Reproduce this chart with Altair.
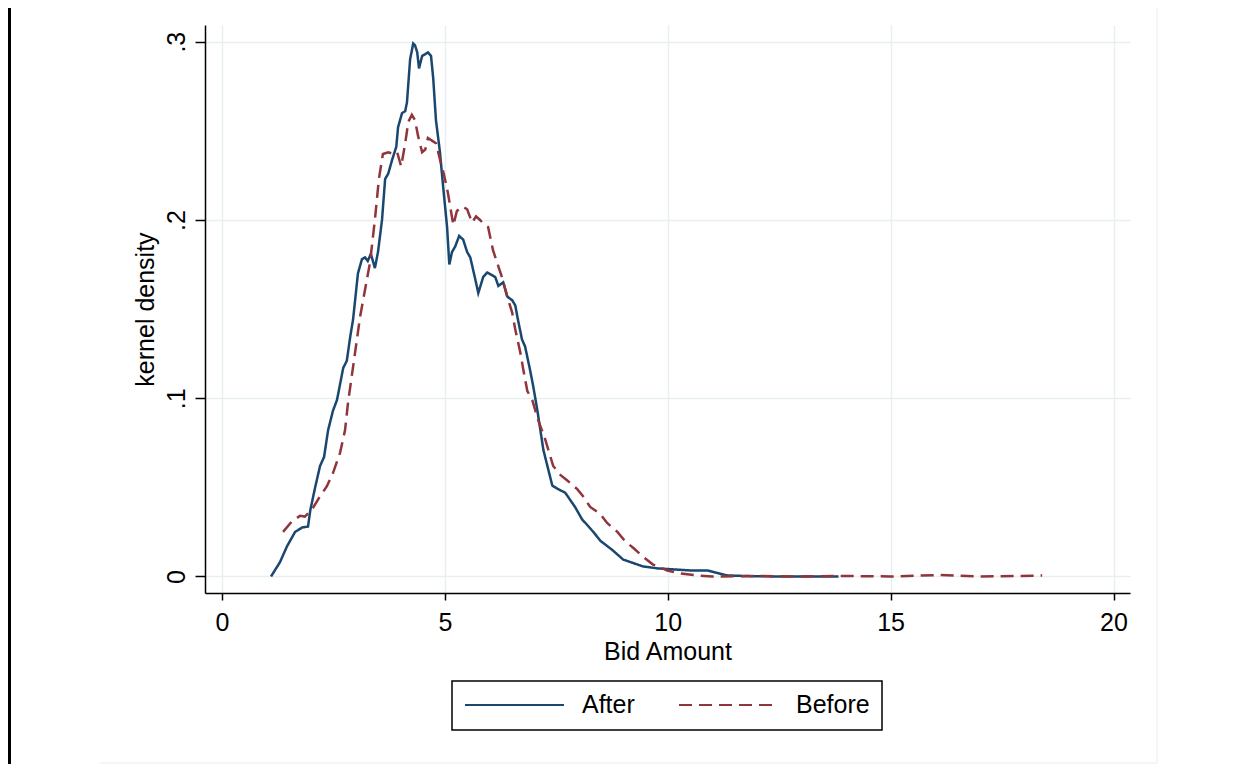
import altair as alt
import pandas as pd

# ---- data (kernel density of bid amounts) ----
after_x = [1.10, 1.30, 1.46, 1.64, 1.80, 1.93, 1.98, 2.09, 2.20, 2.29, 2.38, 2.49, 2.58,
           2.72, 2.80, 2.88, 2.94, 3.05, 3.14, 3.21, 3.27, 3.34, 3.43, 3.50, 3.59, 3.66,
           3.73, 3.82, 3.91, 3.95, 4.04, 4.11, 4.15, 4.22, 4.29, 4.33, 4.38, 4.42, 4.49,
           4.56, 4.62, 4.69, 4.74, 4.80, 4.89, 4.96, 5.05, 5.10, 5.16, 5.23, 5.32, 5.41,
           5.50, 5.57, 5.68, 5.75, 5.86, 5.95, 6.06, 6.13, 6.20, 6.31, 6.40, 6.51, 6.58,
           6.64, 6.73, 6.80, 6.91, 6.98, 7.07, 7.21, 7.41, 7.54, 7.70, 7.81, 7.92, 8.08,
           8.19, 8.33, 8.49, 8.75, 9.00, 9.45, 9.79, 10.50, 10.89, 11.07, 11.34, 11.85,
           12.50, 13.00, 13.83]
after_y = [0.000, 0.008, 0.017, 0.025, 0.0275, 0.028, 0.037, 0.050, 0.062, 0.067, 0.082, 0.093, 0.099,
           0.117, 0.121, 0.135, 0.144, 0.170, 0.178, 0.179, 0.177, 0.181, 0.173, 0.182, 0.200, 0.223,
           0.226, 0.234, 0.241, 0.252, 0.260, 0.261, 0.266, 0.290, 0.299, 0.298, 0.294, 0.285, 0.292,
           0.293, 0.294, 0.292, 0.279, 0.256, 0.238, 0.219, 0.196, 0.175, 0.182, 0.185, 0.191, 0.189,
           0.182, 0.179, 0.167, 0.159, 0.168, 0.1705, 0.169, 0.168, 0.163, 0.165, 0.157, 0.155, 0.152,
           0.144, 0.133, 0.129, 0.116, 0.107, 0.094, 0.071, 0.051, 0.049, 0.047, 0.043, 0.039, 0.032,
           0.029, 0.025, 0.020, 0.015, 0.0095, 0.0056, 0.0045, 0.0034, 0.0034, 0.0022, 0.0006, 0.0002,
           0.0, 0.0, 0.0]

before_x = [1.37, 1.57, 1.75, 1.86, 2.02, 2.20, 2.35, 2.49, 2.65, 2.76, 2.83, 2.96, 3.10,
            3.21, 3.32, 3.43, 3.52, 3.61, 3.73, 3.84, 3.93, 4.02, 4.11, 4.18, 4.26, 4.33,
            4.40, 4.49, 4.56, 4.62, 4.71, 4.80, 4.89, 4.98, 5.07, 5.19, 5.27, 5.39, 5.50,
            5.61, 5.70, 5.79, 5.86, 5.97, 6.08, 6.20, 6.28, 6.40, 6.51, 6.58, 6.69, 6.76,
            6.85, 6.96, 7.09, 7.25, 7.43, 7.59, 7.74, 7.97, 8.10, 8.26, 8.49, 8.64, 8.87,
            9.05, 9.23, 9.45, 9.67, 9.99, 10.28, 10.66, 11.00, 12.00, 13.00, 14.00, 15.00,
            16.10, 17.00, 18.40]
before_y = [0.025, 0.031, 0.034, 0.0336, 0.0376, 0.045, 0.0505, 0.058, 0.0695, 0.082, 0.098, 0.121, 0.146,
            0.161, 0.176, 0.200, 0.223, 0.237, 0.238, 0.237, 0.238, 0.230, 0.243, 0.255, 0.259, 0.256,
            0.247, 0.238, 0.2395, 0.246, 0.2445, 0.243, 0.234, 0.2255, 0.215, 0.197, 0.205, 0.2075, 0.206,
            0.1985, 0.202, 0.200, 0.198, 0.196, 0.183, 0.174, 0.168, 0.157, 0.148, 0.1385, 0.126, 0.116,
            0.104, 0.099, 0.088, 0.077, 0.062, 0.057, 0.054, 0.049, 0.045, 0.039, 0.035, 0.030, 0.025,
            0.0196, 0.016, 0.011, 0.0067, 0.0034, 0.0017, 0.0006, 0.0, 0.0003, 0.0, 0.0003, 0.0,
            0.0008, 0.0, 0.0005]

series_names = ["After", "Before"]
series_colors = ["#1a476f", "#90353b"]
x_ticks = [0, 5, 10, 15, 20]
y_ticks = [0, 0.1, 0.2, 0.3]

df = pd.concat([
    pd.DataFrame({"bid": after_x, "density": after_y, "series": "After"}),
    pd.DataFrame({"bid": before_x, "density": before_y, "series": "Before"}),
], ignore_index=True)

FONT = "Liberation Sans"
FS = 25

legend_kw = dict(
    title=None, orient="none", legendX=247, legendY=656, direction="horizontal",
    symbolType="stroke", symbolSize=9801, symbolStrokeWidth=2, clipHeight=24,
    labelFontSize=FS, labelFont=FONT, labelColor="black", labelOffset=17,
    columnPadding=43, padding=12, strokeColor="black",
)

lines = alt.Chart(df).mark_line(strokeWidth=2.5).encode(
    x=alt.X("bid:Q",
            scale=alt.Scale(domain=[-0.381, 20.37], nice=False, zero=False),
            axis=alt.Axis(values=x_ticks, title="Bid Amount", format="d",
                          tickSize=7, labelPadding=30, labelBaseline="alphabetic",
                          titleBaseline="alphabetic", titleY=66, titleX=462.5,
                          titleAlign="center")),
    y=alt.Y("density:Q",
            scale=alt.Scale(domain=[-0.00926, 0.30936], nice=False, zero=False),
            axis=alt.Axis(values=y_ticks, title="kernel density",
                          labelExpr="datum.value == 0 ? '0' : substring(format(datum.value, '.1f'), 1)",
                          labelAngle=270, labelAlign="center", labelBaseline="alphabetic",
                          tickSize=10, labelPadding=11,
                          titleAngle=270, titleBaseline="alphabetic", titleAlign="center",
                          titleX=-52, titleY=284)),
    color=alt.Color("series:N", scale=alt.Scale(domain=series_names, range=series_colors),
                    legend=alt.Legend(**legend_kw)),
    strokeDash=alt.StrokeDash("series:N",
                              scale=alt.Scale(domain=series_names, range=[[1, 0], [13, 7]]),
                              legend=alt.Legend(**legend_kw)),
)

frame_src = pd.DataFrame({"k": [0]})
left_border = alt.Chart(frame_src).mark_rule(color="black", strokeWidth=3).encode(
    x=alt.value(-195.5), y=alt.value(-17), y2=alt.value(739))
right_border = alt.Chart(frame_src).mark_rule(color="#ececec", strokeWidth=1).encode(
    x=alt.value(952), y=alt.value(-17), y2=alt.value(738))
bottom_border = alt.Chart(frame_src).mark_rule(color="#ececec", strokeWidth=1).encode(
    x=alt.value(-105), x2=alt.value(952), y=alt.value(738))

chart = alt.layer(lines, left_border, right_border, bottom_border).properties(
    width=925, height=568,
    padding={"left": 197, "top": 17, "right": 30, "bottom": 171},
    autosize=alt.AutoSizeParams(type="none"),
    background="white",
).configure_view(strokeWidth=0).configure_axis(
    labelFont=FONT, titleFont=FONT, labelFontSize=FS, titleFontSize=FS,
    labelColor="black", titleColor="black", titleFontWeight="normal",
    domainColor="black", domainWidth=1.5, tickColor="black", tickWidth=1.5,
    gridColor="#e8eff1", gridWidth=1.5,
).configure_legend(strokeWidth=1.5)

chart.save("out.html", embed_options={"renderer": "svg", "actions": False})
